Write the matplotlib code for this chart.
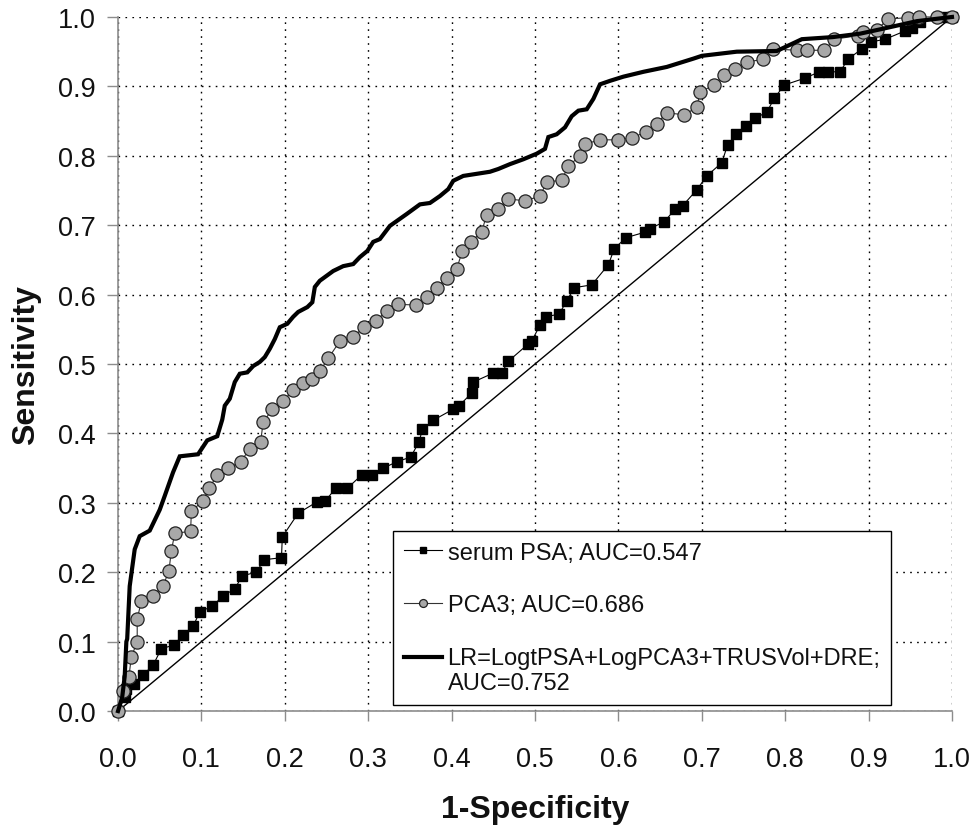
import numpy as np
import matplotlib.pyplot as plt
from matplotlib.legend_handler import HandlerLine2D

plt.rcParams['font.family'] = ['Liberation Sans', 'DejaVu Sans']

# serum PSA ROC points
psa_x = [0, 0.008, 0.01, 0.019, 0.03, 0.042, 0.052, 0.067, 0.078, 0.09, 0.098, 0.113,
         0.126, 0.14, 0.149, 0.166, 0.175, 0.196, 0.197, 0.216, 0.238, 0.248, 0.261,
         0.275, 0.292, 0.304, 0.318, 0.334, 0.351, 0.361, 0.365, 0.378, 0.402, 0.409,
         0.424, 0.426, 0.45, 0.46, 0.468, 0.492, 0.496, 0.506, 0.513, 0.529, 0.538,
         0.547, 0.568, 0.588, 0.595, 0.609, 0.632, 0.638, 0.655, 0.668, 0.677, 0.694,
         0.706, 0.724, 0.731, 0.741, 0.753, 0.764, 0.778, 0.787, 0.799, 0.824, 0.841,
         0.851, 0.866, 0.875, 0.892, 0.903, 0.92, 0.944, 0.952, 0.962, 0.989, 1.0]
psa_y = [0, 0.02, 0.032, 0.039, 0.052, 0.066, 0.09, 0.095, 0.11, 0.122, 0.143, 0.151,
         0.166, 0.176, 0.195, 0.2, 0.218, 0.221, 0.251, 0.285, 0.301, 0.302, 0.321,
         0.321, 0.34, 0.34, 0.35, 0.359, 0.366, 0.388, 0.406, 0.419, 0.435, 0.44,
         0.458, 0.474, 0.487, 0.487, 0.504, 0.529, 0.533, 0.556, 0.568, 0.572, 0.591,
         0.61, 0.614, 0.643, 0.666, 0.682, 0.69, 0.695, 0.705, 0.723, 0.728, 0.751,
         0.771, 0.79, 0.816, 0.831, 0.843, 0.854, 0.863, 0.883, 0.902, 0.912, 0.921,
         0.921, 0.921, 0.939, 0.954, 0.964, 0.968, 0.98, 0.984, 0.993, 1.0, 1.0]

# PCA3 ROC points
pca3_x = [0, 0.006, 0.013, 0.016, 0.023, 0.023, 0.028, 0.042, 0.054, 0.061, 0.064,
          0.068, 0.087, 0.088, 0.102, 0.109, 0.119, 0.132, 0.147, 0.158, 0.171, 0.174,
          0.185, 0.198, 0.21, 0.222, 0.233, 0.242, 0.252, 0.266, 0.282, 0.295, 0.309,
          0.322, 0.336, 0.357, 0.371, 0.382, 0.395, 0.406, 0.413, 0.423, 0.436, 0.442,
          0.456, 0.468, 0.488, 0.506, 0.514, 0.532, 0.54, 0.554, 0.56, 0.578, 0.6,
          0.616, 0.633, 0.646, 0.658, 0.679, 0.694, 0.698, 0.715, 0.727, 0.74, 0.754,
          0.773, 0.785, 0.814, 0.826, 0.847, 0.859, 0.887, 0.893, 0.91, 0.923, 0.947,
          0.96, 0.982, 1.0]
pca3_y = [0, 0.029, 0.049, 0.078, 0.1, 0.133, 0.158, 0.166, 0.18, 0.202, 0.231,
          0.256, 0.259, 0.288, 0.303, 0.321, 0.34, 0.35, 0.359, 0.378, 0.388, 0.416,
          0.435, 0.447, 0.462, 0.472, 0.478, 0.49, 0.508, 0.533, 0.539, 0.553, 0.562,
          0.576, 0.586, 0.585, 0.597, 0.61, 0.624, 0.637, 0.663, 0.676, 0.69, 0.715,
          0.723, 0.738, 0.735, 0.742, 0.762, 0.765, 0.785, 0.8, 0.817, 0.823, 0.823,
          0.826, 0.834, 0.846, 0.862, 0.859, 0.87, 0.892, 0.902, 0.916, 0.925, 0.935,
          0.939, 0.954, 0.952, 0.952, 0.952, 0.968, 0.973, 0.978, 0.981, 0.997, 0.999,
          1.0, 1.0, 1.0]

# logistic regression model ROC points
lr_x = [0, 0.005, 0.008, 0.01, 0.011, 0.014, 0.02, 0.026, 0.038, 0.05, 0.056, 0.066,
        0.074, 0.096, 0.107, 0.119, 0.125, 0.128, 0.134, 0.14, 0.146, 0.155, 0.162,
        0.17, 0.176, 0.182, 0.188, 0.194, 0.203, 0.21, 0.216, 0.227, 0.233, 0.236,
        0.242, 0.25, 0.258, 0.27, 0.282, 0.29, 0.299, 0.306, 0.314, 0.326, 0.346,
        0.362, 0.374, 0.386, 0.396, 0.402, 0.414, 0.446, 0.456, 0.47, 0.486, 0.502,
        0.512, 0.516, 0.526, 0.536, 0.544, 0.552, 0.562, 0.57, 0.578, 0.59, 0.606,
        0.63, 0.658, 0.69, 0.70, 0.742, 0.79, 0.82, 0.857, 0.89, 0.917, 0.958, 1.0]
lr_y = [0, 0.02, 0.05, 0.10, 0.104, 0.18, 0.233, 0.252, 0.26, 0.29, 0.31, 0.344,
        0.367, 0.37, 0.39, 0.396, 0.42, 0.44, 0.45, 0.474, 0.486, 0.488, 0.497,
        0.503, 0.51, 0.522, 0.536, 0.553, 0.558, 0.568, 0.575, 0.582, 0.589, 0.611,
        0.62, 0.627, 0.634, 0.641, 0.644, 0.654, 0.663, 0.676, 0.68, 0.699, 0.716,
        0.73, 0.732, 0.742, 0.752, 0.764, 0.771, 0.777, 0.781, 0.788, 0.795, 0.803,
        0.81, 0.827, 0.831, 0.841, 0.857, 0.865, 0.867, 0.882, 0.903, 0.908, 0.914,
        0.921, 0.928, 0.94, 0.944, 0.95, 0.951, 0.968, 0.971, 0.976, 0.983, 0.994, 1.0]

ticks = [i / 10 for i in range(11)]


# legend handle for the two-line label sits on the first line
class HandlerFirstLine(HandlerLine2D):
    def create_artists(self, legend, orig_handle, xdescent, ydescent, width, height,
                       fontsize, trans):
        arts = super().create_artists(legend, orig_handle, xdescent, ydescent, width,
                                      height, fontsize, trans)
        for a in arts:
            a.set_ydata(np.asarray(a.get_ydata()) + 0.6 * fontsize)
        return arts


fig = plt.figure(figsize=(9.73, 8.28), dpi=100)
ax = fig.add_axes([0.1213, 0.140, 0.8571, 0.8383])

ax.plot(psa_x, psa_y, color='black', lw=0.8, marker='s', ms=6.5,
        mfc='black', mec='black', label='serum PSA; AUC=0.547', zorder=4, clip_on=False)
ax.plot(pca3_x, pca3_y, color='#333333', lw=0.8, marker='o', ms=9.5,
        mfc='#a8a8a8', mec='#222222', mew=0.9, label='PCA3; AUC=0.686', zorder=5, clip_on=False)
lr_line, = ax.plot(lr_x, lr_y, color='black', lw=3.0, solid_joinstyle='miter',
                   label='LR=LogtPSA+LogPCA3+TRUSVol+DRE;\nAUC=0.752', zorder=6, clip_on=False)
ax.plot([0, 1], [0, 1], color='black', lw=1.0, zorder=3)

ax.set_xlim(0, 1)
ax.set_ylim(0, 1)
ax.set_xticks(ticks)
ax.set_yticks(ticks)
ax.set_xticklabels(['%.1f' % t for t in ticks])
ax.set_yticklabels(['%.1f' % t for t in ticks])
ax.grid(True, color='black', linestyle=(0, (1.2, 3.8)), linewidth=1.0)
ax.set_axisbelow(True)

for side in ['top', 'right']:
    ax.spines[side].set_visible(False)
for side in ['left', 'bottom']:
    ax.spines[side].set_color('#8c8c8c')
    ax.spines[side].set_linewidth(1.2)

ax.tick_params(axis='x', length=7, width=1.0, color='#8c8c8c', pad=18,
               labelsize=19.5, labelcolor='#111111')
ax.tick_params(axis='y', length=8, width=1.0, color='#8c8c8c', pad=8,
               labelsize=19.5, labelcolor='#111111')

ax.set_xlabel('1-Specificity', fontsize=23, fontweight='bold', labelpad=16, color='#111111')
ax.set_ylabel('Sensitivity', fontsize=23, fontweight='bold', labelpad=12, color='#111111')

leg = ax.legend(loc='lower left', bbox_to_anchor=(0.33, 0.0086), borderaxespad=0,
                fontsize=17, frameon=True, fancybox=False, edgecolor='black',
                framealpha=1, handlelength=1.6, handletextpad=0.25,
                labelspacing=1.3, borderpad=0.45, markerscale=0.6,
                handler_map={lr_line: HandlerFirstLine()})
leg.get_frame().set_linewidth(1.0)
for t in leg.get_texts():
    t.set_color('#111111')

fig.savefig('out.png', dpi=100)
